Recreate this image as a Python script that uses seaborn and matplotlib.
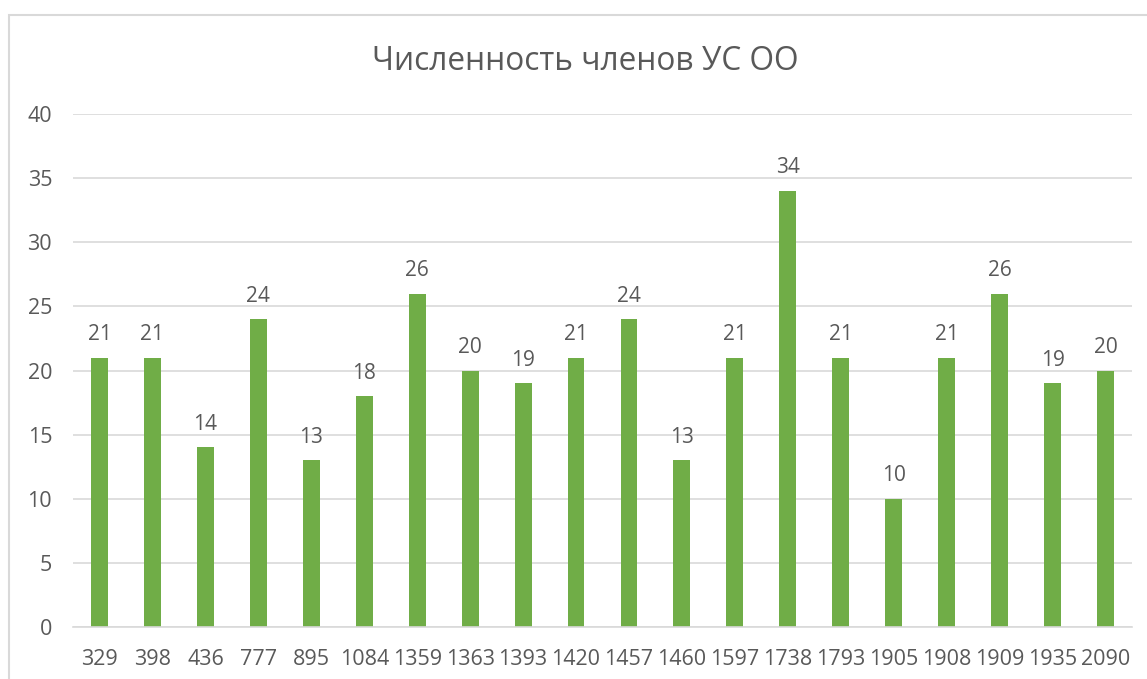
import matplotlib
matplotlib.use("Agg")
import matplotlib.pyplot as plt
import seaborn as sns
import pandas as pd
from matplotlib.patches import Rectangle

categories = ["329", "398", "436", "777", "895", "1084", "1359", "1363", "1393", "1420",
              "1457", "1460", "1597", "1738", "1793", "1905", "1908", "1909", "1935", "2090"]
values = [21, 21, 14, 24, 13, 18, 26, 20, 19, 21, 24, 13, 21, 34, 21, 10, 21, 26, 19, 20]
title = "Численность членов УС ОО"
yticks = [0, 5, 10, 15, 20, 25, 30, 35, 40]

sns.set_theme(style="white")
plt.rcParams['font.family'] = ['Open Sans', 'DejaVu Sans']

W, H = 1147, 679
fig = plt.figure(figsize=(W / 100, H / 100), dpi=100)
ax = fig.add_axes([73 / W, 1 - 627 / H, (1132 - 73) / W, (627 - 114) / H])

df = pd.DataFrame({"cat": categories, "val": values})
sns.barplot(data=df, x="cat", y="val", color="#70AD47", width=0.32, ax=ax,
            saturation=1, linewidth=0, edgecolor="none")

gray = "#595959"
ax.set_ylim(0, 40)
ax.set_yticks(yticks)
ax.yaxis.grid(True, color="#D9D9D9", linewidth=1.2)
ax.set_axisbelow(True)
for s in ["top", "right", "left"]:
    ax.spines[s].set_visible(False)
ax.spines["bottom"].set_color("#D9D9D9")
ax.spines["bottom"].set_linewidth(1.2)
ax.set_xlabel("")
ax.set_ylabel("")
ax.tick_params(axis="both", length=0, labelcolor=gray)
ax.tick_params(axis="x", pad=16, labelsize=15.5)
ax.tick_params(axis="y", pad=15, labelsize=15.5)

for c in ax.containers:
    ax.bar_label(c, fmt="%d", padding=9, fontsize=15, color=gray)

fig.text(585 / W, 1 - 62 / H, title, ha="center", va="center", fontsize=22.8, color=gray)

fig.patches.append(Rectangle((9 / W, -0.1), 2, 1 - 15 / H + 0.1, transform=fig.transFigure,
                             fill=False, edgecolor="#D9D9D9", linewidth=1.5))

fig.savefig("out.png", dpi=100)
